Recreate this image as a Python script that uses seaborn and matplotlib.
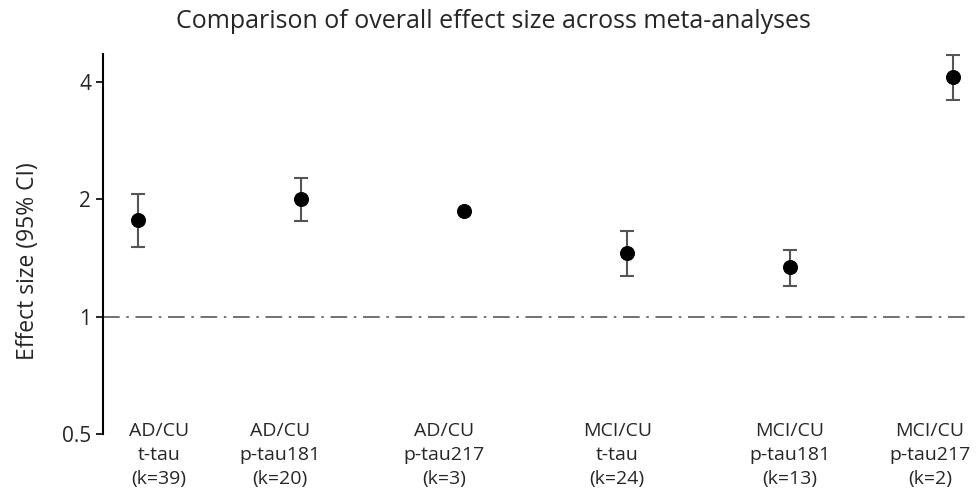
import numpy as np
import matplotlib
matplotlib.use("Agg")
import matplotlib.pyplot as plt
import seaborn as sns

groups = ["AD/CU\nt-tau\n(k=39)", "AD/CU\np-tau181\n(k=20)", "AD/CU\np-tau217\n(k=3)",
          "MCI/CU\nt-tau\n(k=24)", "MCI/CU\np-tau181\n(k=13)", "MCI/CU\np-tau217\n(k=2)"]
effect = [1.77, 2.00, 1.87, 1.46, 1.34, 4.13]
ci_low = [1.51, 1.76, np.nan, 1.27, 1.20, 3.59]
ci_high = [2.06, 2.27, np.nan, 1.66, 1.48, 4.69]

sns.set_style("ticks")
plt.rcParams["font.family"] = ["Open Sans", "DejaVu Sans"]

fig = plt.figure(figsize=(9.8, 5), dpi=100)
ax = fig.add_axes([0.105, 0.132, 0.884, 0.76])

pos = np.arange(len(groups))
eff = np.array(effect)
lo = eff - np.array(ci_low)
hi = np.array(ci_high) - eff
ax.errorbar(pos, eff, yerr=[lo, hi], fmt="none", ecolor="#555555",
            elinewidth=1.5, capsize=5, capthick=1.5, zorder=2)
sns.scatterplot(x=pos, y=eff, color="black", s=100, edgecolor="black",
                zorder=3, ax=ax)

ax.axhline(1, color="#595959", lw=1.2, linestyle=(0, (10, 4, 1.5, 4)), zorder=1)

ax.set_yscale("log", base=2)
ax.set_ylim(0.5, 4.72)
ax.set_yticks([0.5, 1, 2, 4])
ax.set_yticklabels(["0.5", "1", "2", "4"], fontsize=15)
ax.minorticks_off()
ax.set_xlim(-0.215, 5.1)
# the text boxes under the points are not quite centred on them in the original
label_shift = [0.13, -0.13, -0.12, -0.06, 0.0, -0.14]
ax.set_xticks(pos + np.array(label_shift))
ax.set_xticklabels(groups, fontsize=14, linespacing=1.45)
ax.tick_params(axis="x", length=0, pad=-9)
ax.tick_params(axis="y", length=5, width=1.2, color="black")

for s in ["top", "right", "bottom"]:
    ax.spines[s].set_visible(False)
ax.spines["left"].set_color("black")
ax.spines["left"].set_linewidth(1.5)

ax.set_ylabel("Effect size (95% CI)", fontsize=16.5)
ax.yaxis.set_label_coords(-0.073, 0.455)
fig.suptitle("Comparison of overall effect size across meta-analyses",
             fontsize=18, x=0.503, y=0.982)

fig.savefig("out.png", dpi=100)
